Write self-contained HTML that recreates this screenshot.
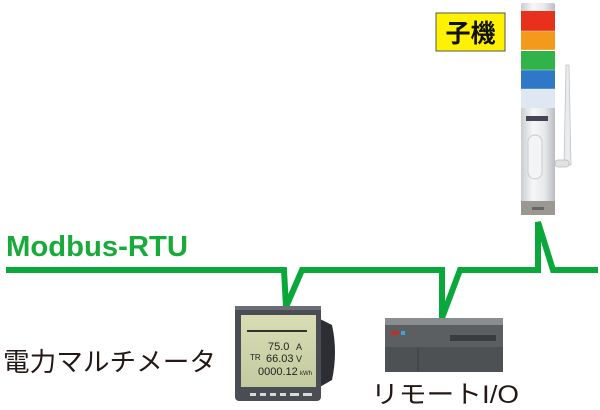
<!DOCTYPE html>
<html><head><meta charset="utf-8"><style>
html,body{margin:0;padding:0;background:#fff;}
body{width:600px;height:410px;overflow:hidden;position:relative;}
svg{position:absolute;left:0;top:0;}
</style></head><body>
<svg width="600" height="410" viewBox="0 0 600 410" xmlns="http://www.w3.org/2000/svg">
<defs>
<linearGradient id="cyl" x1="0" x2="1">
<stop offset="0" stop-color="#c9cdd1"/><stop offset="0.35" stop-color="#f6f7f8"/><stop offset="0.7" stop-color="#e6e8ea"/><stop offset="1" stop-color="#b9bdc2"/>
</linearGradient>
<linearGradient id="lcd" x1="0" y1="0" x2="0" y2="1">
<stop offset="0" stop-color="#d8ddb4"/><stop offset="1" stop-color="#c4caa0"/>
</linearGradient>
</defs>
<text x="6" y="256" font-family="Liberation Sans, sans-serif" font-weight="bold" font-size="29" fill="#1aaa3c" textLength="182" lengthAdjust="spacingAndGlyphs">Modbus-RTU</text>
<rect x="436" y="13" width="69" height="38" fill="#fff200" stroke="#555" stroke-width="1"/>
<text x="470.5" y="42" text-anchor="middle" font-family="Noto Sans CJK JP, sans-serif" font-weight="bold" font-size="25" fill="#111">子機</text>
<rect x="521" y="3" width="34" height="9" rx="2" fill="url(#cyl)"/>
<rect x="521" y="11" width="34" height="20" fill="#e8311c"/>
<rect x="521" y="31" width="34" height="19" fill="#f39a1d"/>
<rect x="521" y="51" width="34" height="19" fill="#31b34a"/>
<rect x="521" y="70" width="34" height="19" fill="#2f78c8"/>
<rect x="521" y="89" width="34" height="19" fill="#dfe8f2"/>
<g stroke="#fff" stroke-opacity="0.35" stroke-width="1"><line x1="521" y1="31" x2="555" y2="31"/><line x1="521" y1="50" x2="555" y2="50"/><line x1="521" y1="70" x2="555" y2="70"/><line x1="521" y1="89" x2="555" y2="89"/></g>
<rect x="521" y="108" width="34" height="94" fill="url(#cyl)"/>
<rect x="526" y="116" width="22" height="5" fill="#445"/>
<rect x="528" y="135" width="14" height="44" rx="7" fill="#f3f4f5" stroke="#c8ccd0"/>
<rect x="521" y="201" width="34" height="14" fill="#9a9890"/>
<rect x="532" y="207" width="12" height="3" fill="#666"/>
<path d="M566 65 L569 65 L571 165 L564 165 Z" fill="#e9ebed" stroke="#c0c4c8" stroke-width="0.8"/>
<rect x="555" y="160" width="14" height="7" rx="3" fill="#e0e2e4" stroke="#bbb" stroke-width="0.8"/>
<polyline points="6,270 284,270 286,307 302,270 442,270 442,318 460,270 538,270 538,222 553,270 598,270" fill="none" stroke="#0aa83a" stroke-width="6" stroke-linejoin="miter"/>
<path d="M318 318 L332 325 Q338 352 332 380 L318 388 Z" fill="#2c2e33"/>
<rect x="235" y="306" width="86" height="95" rx="4" fill="#4a4d53"/>
<rect x="235" y="306" width="86" height="4" fill="#6b6e74"/>
<rect x="241" y="315" width="75" height="72" fill="url(#lcd)"/>
<g font-family="Liberation Sans, sans-serif" fill="#222">
<rect x="247" y="330" width="60" height="2" fill="#333"/>
<text x="268" y="350" font-size="11">75.0</text><text x="296" y="350" font-size="9">A</text>
<text x="250" y="360" font-size="8">TR</text>
<text x="266" y="362" font-size="11">66.03</text><text x="296" y="362" font-size="9">V</text>
<text x="258" y="375" font-size="11">0000.12</text><text x="300" y="375" font-size="6">kWh</text>
</g>
<g fill="#d8d8d8"><rect x="250" y="393" width="6" height="3"/><rect x="260" y="393" width="6" height="3"/><rect x="270" y="393" width="6" height="3"/><rect x="280" y="393" width="6" height="3"/><rect x="290" y="393" width="9" height="3"/><rect x="303" y="393" width="9" height="3"/></g>
<rect x="385" y="318" width="118" height="8" fill="#8a8d90"/>
<rect x="385" y="325" width="118" height="22" fill="#5b5f62"/>
<rect x="391" y="331" width="8" height="4" fill="#c0302a"/>
<rect x="401" y="331" width="4" height="4" fill="#39a6e0"/>
<rect x="450" y="335" width="46" height="6" fill="#3a3d40"/>
<rect x="385" y="347" width="118" height="25" fill="#4d5154"/>
<line x1="418" y1="348" x2="418" y2="371" stroke="#3a3c3e"/>
<text x="3" y="371" font-family="Noto Sans CJK JP, sans-serif" font-size="26" fill="#231815" textLength="213" lengthAdjust="spacingAndGlyphs">電力マルチメータ</text>
<text x="371" y="403" font-family="Liberation Sans, Noto Sans CJK JP, sans-serif" font-size="25" fill="#231815" textLength="148" lengthAdjust="spacingAndGlyphs">リモートI/O</text>
</svg>
</body></html>
